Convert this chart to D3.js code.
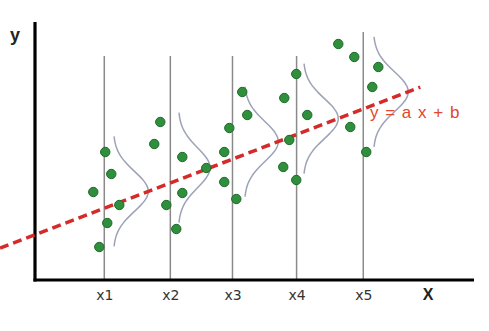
<!DOCTYPE html>
<html>
<head>
<meta charset="utf-8">
<script src="https://cdn.jsdelivr.net/npm/d3@7/dist/d3.min.js"></script>
<style>
  html, body { margin: 0; padding: 0; background: #fff; }
  svg { display: block; }
</style>
</head>
<body>
<svg id="chart" width="489" height="331"></svg>
<script>
// ---- data ----
const categories = ["x1", "x2", "x3", "x4", "x5"];
const categoryX = [1, 2.02, 2.98, 3.97, 5.0];
const guideTop = [11.2, 11.2, 11.2, 11.2, 12.4];

const groupX = [
  [1.015, 1.108, 0.830, 1.232, 1.046, 0.923],
  [1.865, 1.772, 2.205, 2.575, 2.205, 1.958, 2.112],
  [3.131, 3.208, 2.931, 2.853, 2.853, 3.039],
  [3.965, 3.780, 4.135, 3.857, 3.764, 3.965],
  [4.614, 4.861, 5.232, 5.139, 4.799, 5.046]
];
const groupY = [
  [6.4, 5.3, 4.4, 3.75, 2.85, 1.65],
  [7.9, 6.8, 6.15, 5.6, 4.35, 3.75, 2.55],
  [9.4, 8.25, 7.6, 6.4, 4.9, 4.05],
  [10.3, 9.1, 8.25, 7.0, 5.65, 5.0],
  [11.8, 11.15, 10.65, 9.65, 7.65, 6.4]
];

// regression y = a x + b
const slopeA = 1.24;
const interceptB = 2.35;
const lineXRange = [-0.61, 5.88];

// normal curves drawn beside each x
const curveBase = [1.139, 2.143, 3.162, 4.073, 5.154];
const curveAmp = [0.54, 0.49, 0.525, 0.54, 0.54];
const curveSigma = 1.0;
const curveHalfSpan = 2.75;

const axisLabels = { x: "X", y: "y" };
const equationLabel = "y = a x + b";

// ---- scales ----
const svg = d3.select("#chart");
const x = d3.scaleLinear().domain([-0.07, 6.71]).range([35, 474]);
const y = d3.scaleLinear().domain([0, 12.9]).range([280, 22]);

// vertical guide lines
svg.append("g").selectAll("line")
  .data(categoryX)
  .join("line")
  .attr("x1", d => x(d)).attr("x2", d => x(d))
  .attr("y1", (d, i) => y(guideTop[i]))
  .attr("y2", y(0))
  .attr("stroke", "#8a8a8a")
  .attr("stroke-width", 1.5);

// normal curves
const curveLine = d3.line().x(d => x(d[0])).y(d => y(d[1])).curve(d3.curveBasis);
curveBase.forEach((base, i) => {
  const peakX = base + curveAmp[i];
  const cy = slopeA * peakX + interceptB;
  const pts = d3.range(-curveHalfSpan, curveHalfSpan + 0.001, 0.05).map(t =>
    [base + curveAmp[i] * Math.exp(-(t * t) / (2 * curveSigma * curveSigma)), cy + t]);
  svg.append("path")
    .attr("d", curveLine(pts))
    .attr("fill", "none")
    .attr("stroke", "#9ea2b8")
    .attr("stroke-width", 1.5);
});

// axes
const xAxis = d3.axisBottom(x)
  .tickValues(categoryX)
  .tickFormat((d, i) => categories[i])
  .tickSizeInner(0).tickSizeOuter(0).tickPadding(10);
const gx = svg.append("g").attr("transform", `translate(0,${y(0)})`).call(xAxis);
gx.select(".domain").attr("stroke", "#000").attr("stroke-width", 3.2)
  .attr("d", `M${x.range()[0] - 1.5},0H${x.range()[1]}`);
gx.selectAll("text")
  .attr("font-family", "DejaVu Sans, sans-serif")
  .attr("font-size", 14)
  .attr("fill", "#333");

const yAxis = d3.axisLeft(y).tickValues([]).tickSizeOuter(0);
const gy = svg.append("g").attr("transform", `translate(${x.range()[0]},0)`).call(yAxis);
gy.select(".domain").attr("stroke", "#000").attr("stroke-width", 3.2)
  .attr("d", `M0,${y.range()[1]}V${y.range()[0] + 1.5}`);

// axis titles
svg.append("text")
  .attr("x", 428).attr("y", 300)
  .attr("text-anchor", "middle")
  .attr("font-family", "Liberation Sans, Arial, sans-serif")
  .attr("font-weight", "bold").attr("font-size", 16)
  .attr("fill", "#222")
  .text(axisLabels.x);
svg.append("text")
  .attr("x", 15).attr("y", 41)
  .attr("text-anchor", "middle")
  .attr("font-family", "Liberation Sans, Arial, sans-serif")
  .attr("font-weight", "bold").attr("font-size", 18)
  .attr("fill", "#222")
  .text(axisLabels.y);

// regression dashed line
svg.append("line")
  .attr("x1", x(lineXRange[0])).attr("y1", y(slopeA * lineXRange[0] + interceptB))
  .attr("x2", x(lineXRange[1])).attr("y2", y(slopeA * lineXRange[1] + interceptB))
  .attr("stroke", "#d42a2a")
  .attr("stroke-width", 3.5)
  .attr("stroke-dasharray", "9,5");

// points
const allPoints = groupX.flatMap((xs, g) => xs.map((v, j) => [v, groupY[g][j]]));
svg.append("g").selectAll("circle")
  .data(allPoints)
  .join("circle")
  .attr("cx", d => x(d[0]))
  .attr("cy", d => y(d[1]))
  .attr("r", 4.7)
  .attr("fill", "#2f8f3c")
  .attr("stroke", "#1e6a2a")
  .attr("stroke-width", 1);

// equation label
svg.append("text")
  .attr("x", 370).attr("y", 118)
  .attr("font-family", "Liberation Sans, Arial, sans-serif")
  .attr("font-size", 17)
  .attr("letter-spacing", 1)
  .attr("fill", "#e0482c")
  .text(equationLabel);
</script>
</body>
</html>
